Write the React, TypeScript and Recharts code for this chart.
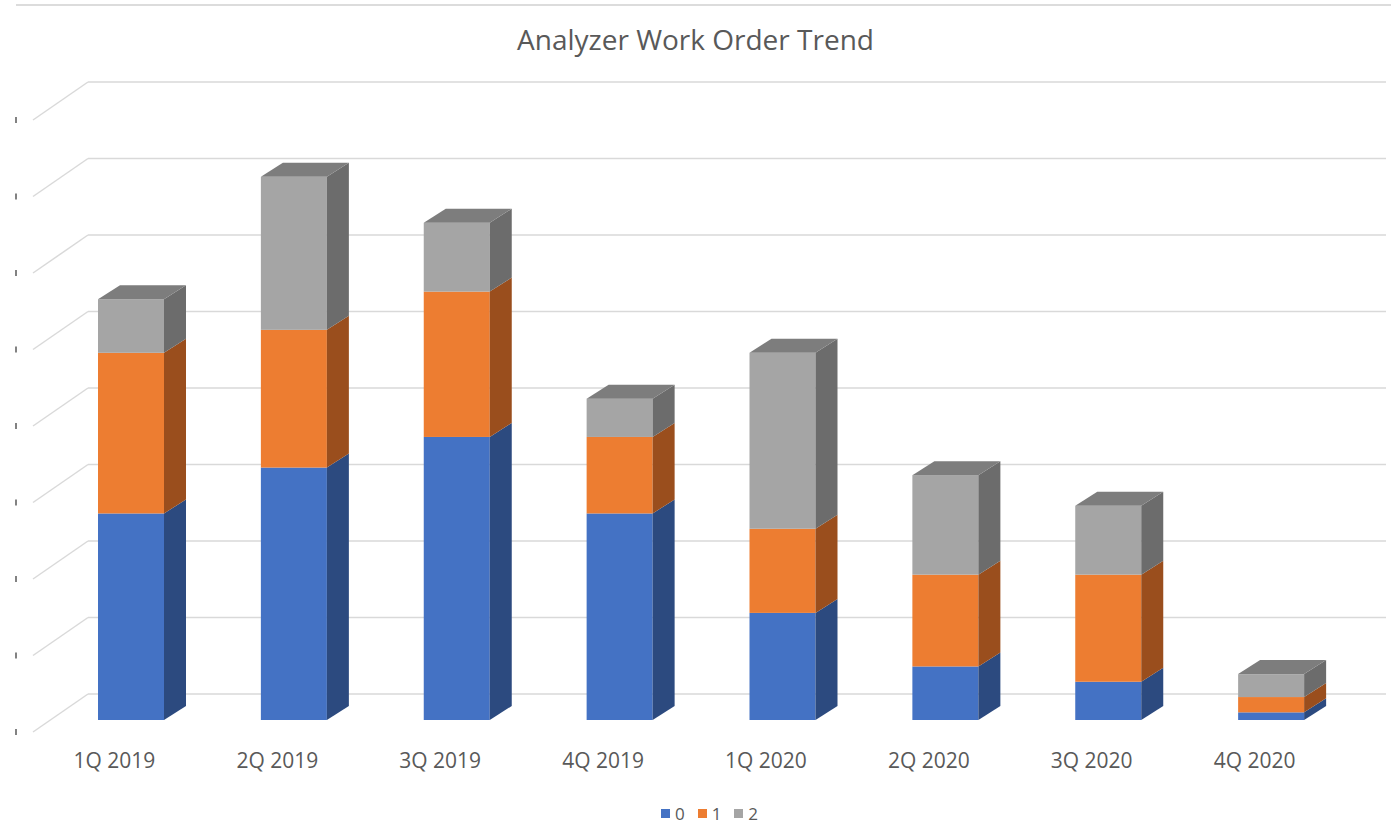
import { BarChart, Bar, XAxis, YAxis, CartesianGrid } from 'recharts'

// ─── Data ─────────────────────────────────────────────────────────────────────

const quarters = ['1Q 2019', '2Q 2019', '3Q 2019', '4Q 2019', '1Q 2020', '2Q 2020', '3Q 2020', '4Q 2020']
const level0 = [27, 33, 37, 27, 14, 7, 5, 1]
const level1 = [21, 18, 19, 10, 11, 12, 14, 2]
const level2 = [7, 20, 9, 5, 23, 13, 9, 3]
const yTicks = [0, 10, 20, 30, 40, 50, 60, 70, 80]
const Y_MAX = 80

const data = quarters.map((q, i) => ({ quarter: q, l0: level0[i], l1: level1[i], l2: level2[i] }))

// ─── 3D look ──────────────────────────────────────────────────────────────────

const DX = 22
const DY = -14
const FONT = '"Open Sans", "Noto Sans", sans-serif'
const TEXT = '#595959'

function makeShape(front: string, side: string, top?: string) {
  return function BoxShape(props: any) {
    const { x, y, width: w, height: h } = props
    if (!h || h <= 0) return <g />
    return (
      <g>
        <rect x={x} y={y} width={w} height={h} fill={front} />
        <polygon
          points={`${x + w},${y + h} ${x + w + DX},${y + h + DY} ${x + w + DX},${y + DY} ${x + w},${y}`}
          fill={side}
        />
        {top && (
          <polygon
            points={`${x},${y} ${x + DX},${y + DY} ${x + w + DX},${y + DY} ${x + w},${y}`}
            fill={top}
          />
        )}
      </g>
    )
  }
}

// grid rows sit on the back wall, with a slanted run down to the front-left edge
function gridRows({ yAxis, offset }: any): number[] {
  const s = yAxis?.scale
  return yTicks.map(v => {
    if (typeof s === 'function') return s(v)
    if (s && typeof s.map === 'function') return s.map(v)
    return offset.top + offset.height * (1 - v / Y_MAX)
  })
}

function GridLine(props: any) {
  const y = props.y1
  return (
    <g key={props.key}>
      <line x1={16} x2={16} y1={y + 9} y2={y + 15} stroke="#595959" strokeWidth={1.5} />
      <line x1={33} y1={y + 12} x2={88} y2={y - 26} stroke="#d9d9d9" strokeWidth={1.5} />
      <line x1={88} y1={y - 26} x2={1386} y2={y - 26} stroke="#d9d9d9" strokeWidth={1.5} />
    </g>
  )
}

function QuarterTick({ x, payload }: any) {
  return (
    <text x={x - 17} y={768} textAnchor="middle" fontFamily={FONT} fontSize={21} fill={TEXT}>
      {payload.value}
    </text>
  )
}

const legendItems = [
  { label: '0', color: '#4472c4' },
  { label: '1', color: '#ed7d31' },
  { label: '2', color: '#a5a5a5' },
]

// ─── Component ────────────────────────────────────────────────────────────────

export default function App() {
  return (
    <div style={{ position: 'absolute', left: 0, top: 0, width: 1391, height: 836, background: '#fff', fontFamily: FONT }}>
      <div style={{ position: 'absolute', left: 16, right: 0, top: 4, height: 2, background: '#dcdcdc' }} />
      <div style={{ position: 'absolute', left: 0, width: 1391, top: 20, textAlign: 'center', fontSize: 28, color: TEXT }}>
        Analyzer Work Order Trend
      </div>

      <BarChart
        width={1391}
        height={836}
        data={data}
        margin={{ top: 108, right: 38, left: 50, bottom: 0 }}
        barSize={66}
      >
        <CartesianGrid
          vertical={false}
          horizontalCoordinatesGenerator={gridRows}
          horizontal={(p: any) => <GridLine {...p} />}
        />
        <XAxis
          dataKey="quarter"
          height={116}
          axisLine={false}
          tickLine={false}
          interval={0}
          tick={<QuarterTick />}
        />
        <YAxis domain={[0, Y_MAX]} ticks={yTicks} width={0} tick={false} axisLine={false} tickLine={false} />
        <Bar dataKey="l0" stackId="a" isAnimationActive={false} shape={makeShape('#4472c4', '#2c4a7f')} />
        <Bar dataKey="l1" stackId="a" isAnimationActive={false} shape={makeShape('#ed7d31', '#9a4e1d')} />
        <Bar dataKey="l2" stackId="a" isAnimationActive={false} shape={makeShape('#a5a5a5', '#6c6c6c', '#7d7d7d')} />
      </BarChart>

      <div style={{ position: 'absolute', left: 14, width: 1391, top: 802, display: 'flex', justifyContent: 'center', gap: 13, fontSize: 17, color: TEXT }}>
        {legendItems.map(it => (
          <div key={it.label} style={{ display: 'flex', alignItems: 'center', gap: 5 }}>
            <span style={{ width: 9, height: 9, background: it.color, display: 'inline-block' }} />
            <span>{it.label}</span>
          </div>
        ))}
      </div>
    </div>
  )
}
